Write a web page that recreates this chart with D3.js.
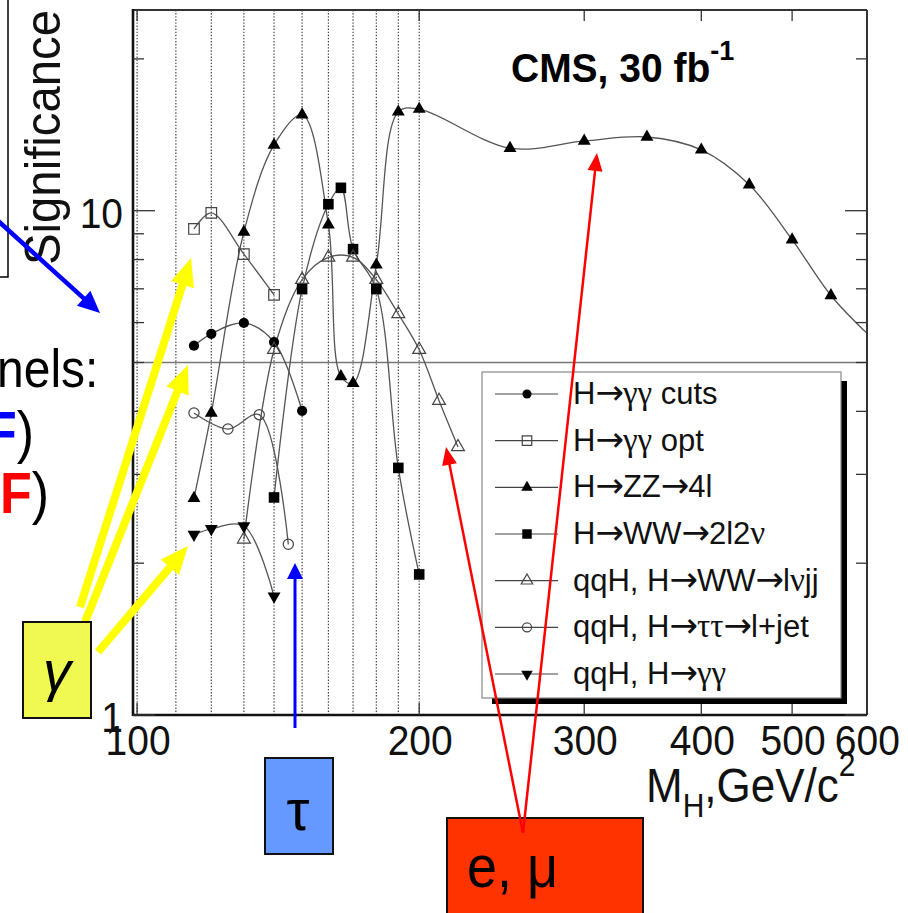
<!DOCTYPE html>
<html><head><meta charset="utf-8">
<script src="https://cdn.jsdelivr.net/npm/d3@7"></script>
<style>
body{margin:0;background:#fff}
svg{display:block}
text{font-family:"Liberation Sans",Arial,Helvetica,sans-serif}
</style>
</head><body>
<svg id="c" width="908" height="913"></svg>
<script>
// Higgs discovery significance for 30 fb^-1 versus Higgs mass, per channel
const massGGCuts = [115, 120, 130, 140, 150];
const sigGGCuts  = [5.40, 5.70, 5.99, 5.49, 4.01];

const massGGOpt = [115, 120, 130, 140];
const sigGGOpt  = [9.20, 9.90, 8.20, 6.81];

const massZZ4l = [115, 120, 130, 140, 150, 160, 165, 170, 180, 190, 200, 250, 300, 350, 400, 450, 500, 550, 600];
const sigZZ4l  = [2.69, 3.97, 9.07, 13.5, 15.5, 9.38, 4.69, 4.55, 7.81, 15.7, 15.9, 13.3, 13.75, 14.0, 13.2, 11.26, 8.76, 6.79, 5.73];

const massWW2l2nu = [140, 150, 160, 165, 170, 180, 190, 200];
const sigWW2l2nu  = [2.70, 6.99, 10.3, 11.1, 8.39, 6.99, 3.09, 1.90];

const massQqhWWlnujj = [130, 140, 150, 160, 170, 180, 190, 200, 210, 220];
const sigQqhWWlnujj  = [2.23, 5.30, 7.30, 8.08, 8.08, 7.30, 6.24, 5.30, 4.20, 3.40];

const massQqhTauTau = [115, 125, 135, 145];
const sigQqhTauTau  = [3.97, 3.69, 3.94, 2.18];

const massQqhGG = [115, 120, 130, 140];
const sigQqhGG  = [2.28, 2.34, 2.37, 1.72];

const seriesLabels = [
  "H→γγ cuts", "H→γγ opt", "H→ZZ→4l", "H→WW→2l2ν",
  "qqH, H→WW→lνjj", "qqH, H→ττ→l+jet", "qqH, H→γγ"
];
const seriesMarkers = ["circle", "squareOpen", "triangle", "square", "triangleOpen", "circleOpen", "triangleDown"];

const gridMasses = [100, 110, 120, 130, 140, 150, 160, 170, 180, 190, 200];
const xTickMasses = [100, 200, 300, 400, 500];
const xTickLabels = [100, 200, 300, 400, 500, 600];
const yMinorTicks = [2, 3, 4, 5, 6, 7, 8, 9, 20];
const yMajorTicks = [1, 10];
const discoveryLevel = 5;

const series = [
  [massGGCuts, sigGGCuts], [massGGOpt, sigGGOpt], [massZZ4l, sigZZ4l],
  [massWW2l2nu, sigWW2l2nu], [massQqhWWlnujj, sigQqhWWlnujj],
  [massQqhTauTau, sigQqhTauTau], [massQqhGG, sigQqhGG]
].map((p, i) => ({
  label: seriesLabels[i],
  marker: seriesMarkers[i],
  points: p[0].map((m, j) => ({m: m, s: p[1][j]}))
}));

const svg = d3.select("#c");
const x = d3.scaleLog().domain([99, 601]).range([133, 867]);
const y = d3.scaleLog().domain([1, 25]).range([715, 10]);
const [X0, X1] = x.range();
const [Y1, Y0] = y.range();

svg.append("defs").append("clipPath").attr("id", "frame")
  .append("rect").attr("x", X0).attr("y", Y0).attr("width", X1 - X0).attr("height", Y1 - Y0);

// dotted mass grid
svg.append("g").selectAll("line").data(gridMasses).join("line")
  .attr("x1", d => x(d)).attr("x2", d => x(d))
  .attr("y1", Y0).attr("y2", Y1)
  .attr("stroke", "#333").attr("stroke-width", 1.1).attr("stroke-dasharray", "1.4,1.7");

// 5 sigma line
svg.append("line")
  .attr("x1", X0).attr("x2", X1).attr("y1", y(discoveryLevel)).attr("y2", y(discoveryLevel))
  .attr("stroke", "#777").attr("stroke-width", 1.6);

// smooth curves
const line = d3.line().x(d => x(d.m)).y(d => y(d.s)).curve(d3.curveCatmullRom.alpha(0.5));
svg.append("g").attr("clip-path", "url(#frame)")
  .selectAll("path").data(series).join("path")
  .attr("d", d => line(d.points))
  .attr("fill", "none").attr("stroke", "#555").attr("stroke-width", 1.3);

// markers
function marker(g, type, cx, cy, k) {
  k = k || 1;
  const open = type.endsWith("Open");
  let sym, size, rot = 0;
  if (type.startsWith("circle")) { sym = d3.symbolCircle; size = 82 * k; }
  else if (type.startsWith("square")) { sym = d3.symbolSquare; size = 112 * k; }
  else { sym = d3.symbolTriangle; size = 72 * k; if (type === "triangleDown") rot = 180; }
  g.append("path")
    .attr("d", d3.symbol().type(sym).size(size)())
    .attr("transform", `translate(${cx},${cy}) rotate(${rot})`)
    .attr("fill", open ? "#fff" : "#000")
    .attr("fill-opacity", open ? 0 : 1)
    .attr("stroke", open ? "#444" : "none")
    .attr("stroke-width", 1.2);
}
const mk = svg.append("g");
series.forEach(s => s.points.forEach(p => {
  if (p.m < 600) marker(mk, s.marker, x(p.m), y(p.s));
}));

// frame
const fr = svg.append("g");
fr.append("line").attr("x1", X0).attr("x2", X1).attr("y1", Y0).attr("y2", Y0).attr("stroke", "#333").attr("stroke-width", 1.8);
fr.append("line").attr("x1", X1).attr("x2", X1).attr("y1", Y0).attr("y2", Y1).attr("stroke", "#333").attr("stroke-width", 2);
fr.append("line").attr("x1", X0).attr("x2", X0).attr("y1", Y0 - 1).attr("y2", Y1 + 1).attr("stroke", "#111").attr("stroke-width", 2.6);
fr.append("line").attr("x1", X0).attr("x2", X1).attr("y1", Y1).attr("y2", Y1).attr("stroke", "#111").attr("stroke-width", 2.4);

// ticks
const tk = svg.append("g").attr("stroke", "#333").attr("stroke-width", 1.3);
yMinorTicks.forEach(v => {
  tk.append("line").attr("x1", X0).attr("x2", X0 + 11).attr("y1", y(v)).attr("y2", y(v));
  tk.append("line").attr("x1", X1 - 11).attr("x2", X1).attr("y1", y(v)).attr("y2", y(v));
});
yMajorTicks.forEach(v => {
  tk.append("line").attr("x1", X0).attr("x2", X0 + 22).attr("y1", y(v)).attr("y2", y(v));
  tk.append("line").attr("x1", X1 - 22).attr("x2", X1).attr("y1", y(v)).attr("y2", y(v));
});
xTickMasses.forEach(v => {
  tk.append("line").attr("x1", x(v)).attr("x2", x(v)).attr("y1", Y0).attr("y2", Y0 + 11);
  tk.append("line").attr("x1", x(v)).attr("x2", x(v)).attr("y1", Y1 - 12).attr("y2", Y1);
});

// tick labels
function stretchedText(g, tx, ty, str, opts) {
  const t = g.append("text")
    .attr("transform", `translate(${tx},${ty}) scale(1,${opts.sy || 1})`)
    .attr("font-size", opts.size)
    .attr("text-anchor", opts.anchor || "start")
    .attr("fill", opts.fill || "#000")
    .text(str);
  if (opts.weight) t.attr("font-weight", opts.weight);
  if (opts.family) t.attr("font-family", opts.family);
  return t;
}
const lab = svg.append("g");
xTickLabels.forEach(v => stretchedText(lab, x(v) + 1, 755, v, {size: 39, anchor: "middle", sy: 1.1, fill: "#111"}));
yMajorTicks.forEach(v => stretchedText(lab, 123, y(v) + 17, v, {size: 39, anchor: "end", sy: 1.1, fill: "#111"}));

// x axis title
const xt = lab.append("text").attr("transform", "translate(646,802) scale(1,1.08)").attr("font-size", 44).attr("fill", "#111");
xt.append("tspan").text("M");
xt.append("tspan").attr("font-size", 30).attr("dy", 14).text("H");
xt.append("tspan").attr("dy", -14).text(",GeV/c");
xt.append("tspan").attr("font-size", 30).attr("dy", -24).text("2");

// y axis title
lab.append("text").attr("transform", "translate(60,265) rotate(-90)")
  .attr("font-size", 50).attr("textLength", 255).attr("lengthAdjust", "spacingAndGlyphs")
  .attr("fill", "#111").text("Significance");

// luminosity label
const cms = lab.append("text").attr("transform", "translate(511,82) scale(1,1.04)")
  .attr("font-size", 39).attr("font-weight", "bold").attr("fill", "#000");
cms.append("tspan").text("CMS, 30 fb");
cms.append("tspan").attr("font-size", 27).attr("dy", -21).text("-1");

// legend
const lg = svg.append("g");
lg.append("rect").attr("x", 492).attr("y", 381).attr("width", 355).attr("height", 323).attr("fill", "#000");
lg.append("rect").attr("x", 482).attr("y", 372).attr("width", 359).attr("height", 326)
  .attr("fill", "#fff").attr("stroke", "#888").attr("stroke-width", 1.2);
const greek = /[γντμ]/;
series.forEach((s, i) => {
  const ry = 394 + i * 46.67;
  lg.append("line").attr("x1", 495).attr("x2", 558).attr("y1", ry).attr("y2", ry)
    .attr("stroke", "#444").attr("stroke-width", 1.2);
  marker(lg, s.marker, 527, ry, 0.8);
  const t = lg.append("text").attr("x", 573).attr("y", ry + 10).attr("font-size", 31).attr("fill", "#111");
  // Greek letters in a serif face, arrows in a wider face
  const kind = ch => greek.test(ch) ? "g" : (ch === "→" ? "a" : "t");
  let run = "", runKind = null;
  const flush = () => {
    if (!run) return;
    const ts = t.append("tspan").text(run);
    if (runKind === "g") ts.attr("font-family", "Liberation Serif, DejaVu Serif, serif").attr("font-size", 33);
    if (runKind === "a") ts.attr("font-family", "DejaVu Sans, sans-serif").attr("font-size", 34).attr("letter-spacing", -1);
    run = "";
  };
  for (const ch of s.label) {
    const k = kind(ch);
    if (runKind !== null && k !== runKind) flush();
    runKind = k; run += ch;
  }
  flush();
});

// slide annotations
const an = svg.append("g");
function arrow(x1, y1, x2, y2, color, w, hl, hw) {
  const dx = x2 - x1, dy = y2 - y1, L = Math.hypot(dx, dy);
  const ux = dx / L, uy = dy / L, bx = x2 - ux * hl, by = y2 - uy * hl;
  an.append("line").attr("x1", x1).attr("y1", y1).attr("x2", bx + ux * 2).attr("y2", by + uy * 2)
    .attr("stroke", color).attr("stroke-width", w);
  an.append("polygon")
    .attr("points", `${x2},${y2} ${bx - uy * hw / 2},${by + ux * hw / 2} ${bx + uy * hw / 2},${by - ux * hw / 2}`)
    .attr("fill", color);
}

// box around the y title
an.append("path").attr("d", "M8,0 V277 H-2").attr("fill", "none").attr("stroke", "#000").attr("stroke-width", 1.5);

// cut-off channel list text
stretchedText(an, -3, 387, "nels:", {size: 48, sy: 1.12});
const f1 = an.append("text").attr("transform", "translate(-15,452) scale(1,1.1)").attr("font-size", 52);
f1.append("tspan").attr("font-weight", "bold").attr("fill", "#0000ff").text("F");
f1.append("tspan").attr("fill", "#000").text(")");
const f2 = an.append("text").attr("transform", "translate(0,513) scale(1,1.1)").attr("font-size", 52);
f2.append("tspan").attr("font-weight", "bold").attr("fill", "#ff0000").text("F");
f2.append("tspan").attr("fill", "#000").text(")");

// blue arrow from the y title box
arrow(-4, 219, 100, 313, "#0000ff", 4.5, 22, 20);

// photon channels
arrow(80, 607, 191, 258, "#ffff00", 8, 28, 24);
arrow(85, 622, 188, 365, "#ffff00", 8, 28, 24);
arrow(98, 652, 188, 546, "#ffff00", 8, 28, 24);
an.append("rect").attr("x", 23).attr("y", 622).attr("width", 68).attr("height", 96)
  .attr("fill", "#f0f852").attr("stroke", "#111").attr("stroke-width", 2);
an.append("text").attr("x", 57).attr("y", 690).attr("text-anchor", "middle")
  .attr("font-family", "Liberation Serif, Times New Roman, serif").attr("font-style", "italic")
  .attr("font-size", 56).attr("fill", "#000").text("γ");

// tau channel
arrow(295, 728, 295, 563, "#0000ff", 3, 16, 16);
an.append("rect").attr("x", 265).attr("y", 758).attr("width", 68).attr("height", 96)
  .attr("fill", "#6699ff").attr("stroke", "#111").attr("stroke-width", 2);
an.append("text").attr("x", 298).attr("y", 830).attr("text-anchor", "middle")
  .attr("font-family", "Liberation Serif, Times New Roman, serif")
  .attr("font-size", 58).attr("fill", "#000").text("τ");

// lepton channels
an.append("rect").attr("x", 447).attr("y", 818).attr("width", 196).attr("height", 110)
  .attr("fill", "#ff3300").attr("stroke", "#111").attr("stroke-width", 2);
arrow(523, 833, 597, 153, "#ff0000", 2.5, 18, 15);
arrow(523, 833, 446, 447, "#ff0000", 2.5, 18, 15);
stretchedText(an, 467, 887, "e, μ", {size: 54, sy: 1.08});
</script>
</body></html>
